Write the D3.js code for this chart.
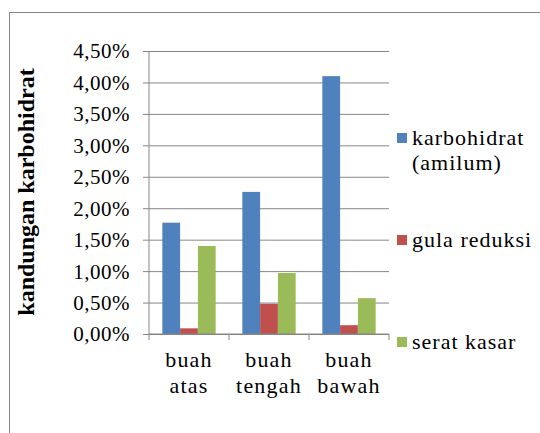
<!DOCTYPE html>
<html>
<head>
<meta charset="utf-8">
<script src="https://cdn.jsdelivr.net/npm/d3@7"></script>
<style>
  body { margin: 0; background: #fff; }
</style>
</head>
<body>
<div class="chart"></div>
<script>
// data (values in %)
var categories = ["buah atas", "buah tengah", "buah bawah"];
var seriesNames = ["karbohidrat (amilum)", "gula reduksi", "serat kasar"];
var karbohidrat = [1.77, 2.26, 4.10];
var gulaReduksi = [0.09, 0.48, 0.14];
var seratKasar = [1.40, 0.97, 0.57];
var yTicks = [0, 0.5, 1, 1.5, 2, 2.5, 3, 3.5, 4, 4.5];

var colors = ["#4F81BD", "#C0504D", "#9BBB59"];
var allSeries = [karbohidrat, gulaReduksi, seratKasar];
var fontFamily = "'Liberation Serif', serif";

var svgWidth = 540;
var svgHeight = 433;
var margin = {top: 51, left: 149};
var width = 240;
var height = 283;

var svg = d3.select(".chart")
    .append("svg")
    .attr("width", svgWidth)
    .attr("height", svgHeight)
    .attr("font-family", fontFamily);

// outer frame
svg.append("rect")
    .attr("x", 9.5)
    .attr("y", 12.5)
    .attr("width", 560)
    .attr("height", 460)
    .attr("fill", "none")
    .attr("stroke", "#868686");

var chart = svg.append("g")
    .attr("transform", "translate(" + margin.left + "," + margin.top + ")");

var x = d3.scaleBand().domain(categories).range([0, width]);
var bw = x.bandwidth() / 4.5;
var xSub = d3.scaleBand().domain(seriesNames).range([0.75 * bw, 3.75 * bw]);
var y = d3.scaleLinear().domain([0, 4.5]).range([height, 0]);

var locale = d3.formatLocale({decimal: ",", thousands: ".", grouping: [3], currency: ["", ""]});
var fmt = locale.format(".2f");

// y axis with gridlines
var yAxis = chart.append("g")
    .call(d3.axisLeft(y).tickValues(yTicks).tickSize(-width).tickPadding(19)
        .tickFormat(function(d) { return fmt(d) + "%"; }))
    .attr("font-family", fontFamily)
    .attr("font-size", 21);
yAxis.select(".domain").remove();
yAxis.selectAll(".tick line")
    .attr("x1", -6)
    .attr("stroke", "#868686");
yAxis.selectAll(".tick text")
    .attr("fill", "#000")
    .attr("letter-spacing", 0.5)
    .attr("dy", "0.33em");

chart.append("line")
    .attr("x1", 0).attr("x2", 0)
    .attr("y1", 0).attr("y2", height)
    .attr("stroke", "#868686");

// bars
seriesNames.forEach(function(name, si) {
    chart.selectAll(".bar" + si)
        .data(allSeries[si])
        .enter()
        .append("rect")
        .attr("x", function(d, i) { return x(categories[i]) + xSub(name); })
        .attr("y", function(d) { return y(d); })
        .attr("width", xSub.bandwidth())
        .attr("height", function(d) { return height - y(d); })
        .attr("fill", colors[si]);
});

// x axis
var xAxis = chart.append("g")
    .attr("transform", "translate(0," + height + ")");
xAxis.append("line")
    .attr("x1", 0).attr("x2", width)
    .attr("stroke", "#868686");
xAxis.selectAll(".xtick")
    .data(d3.range(categories.length + 1))
    .enter()
    .append("line")
    .attr("x1", function(d) { return d * x.step(); })
    .attr("x2", function(d) { return d * x.step(); })
    .attr("y1", 0).attr("y2", 6)
    .attr("stroke", "#868686");

var xLabels = xAxis.selectAll(".xlabel")
    .data(categories)
    .enter()
    .append("text")
    .attr("text-anchor", "middle")
    .attr("font-size", 22)
    .attr("letter-spacing", 1.2)
    .attr("transform", function(d) { return "translate(" + (x(d) + x.bandwidth() / 2) + ",33)"; });
xLabels.selectAll("tspan")
    .data(function(d) { return d.split(" "); })
    .enter()
    .append("tspan")
    .attr("x", 0)
    .attr("y", function(d, i) { return i * 25.5; })
    .text(function(d) { return d; });

// y axis title
svg.append("text")
    .attr("transform", "translate(34,192) rotate(-90)")
    .attr("text-anchor", "middle")
    .attr("font-size", 24)
    .attr("font-weight", "bold")
    .text("kandungan karbohidrat");

// legend
var legendY = [133, 235, 337];
var legend = svg.selectAll(".legend")
    .data(seriesNames)
    .enter()
    .append("g")
    .attr("transform", function(d, i) { return "translate(397," + legendY[i] + ")"; });
legend.append("rect")
    .attr("width", 10)
    .attr("height", 10)
    .attr("fill", function(d, i) { return colors[i]; });
var legendText = legend.append("text")
    .attr("x", 15)
    .attr("y", 12)
    .attr("font-size", 22)
    .attr("letter-spacing", 1);
legendText.selectAll("tspan")
    .data(function(d) { return d.indexOf("(") > 0 ? d.split(" ") : [d]; })
    .enter()
    .append("tspan")
    .attr("x", 15)
    .attr("dy", function(d, i) { return i === 0 ? 0 : 25; })
    .text(function(d) { return d; });
</script>
</body>
</html>
